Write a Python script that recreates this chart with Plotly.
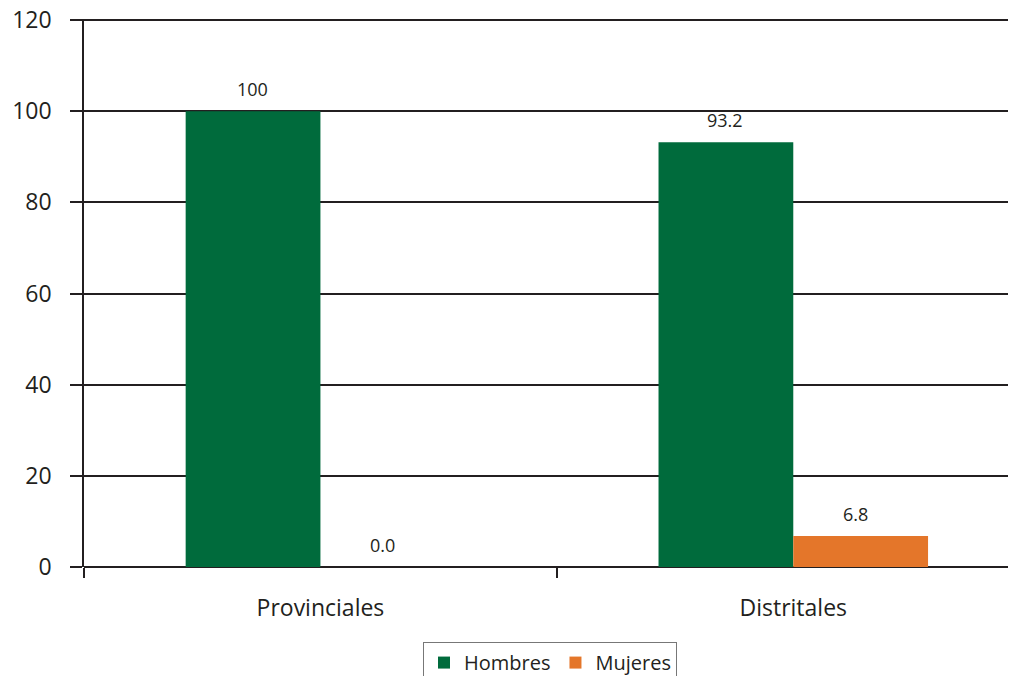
import plotly.graph_objects as go

categorias = ['Provinciales', 'Distritales']
hombres = [100, 93.2]
mujeres = [0.0, 6.8]
etiq_hombres = ['100', '93.2']
etiq_mujeres = ['0.0', '6.8']
y_ticks = [0, 20, 40, 60, 80, 100, 120]

verde = '#006b3c'
naranja = '#e4762a'
linea = '#231f20'
fuente = 'Open Sans'

fig = go.Figure()
fig.add_trace(go.Bar(x=categorias, y=hombres, name='Hombres',
                     marker=dict(color=verde, line=dict(width=0))))
fig.add_trace(go.Bar(x=categorias, y=mujeres, name='Mujeres',
                     marker=dict(color=naranja, line=dict(width=0))))

# etiquetas de datos, algo por encima de cada barra
for i, cat in enumerate(categorias):
    fig.add_annotation(x=cat, y=hombres[i], text=etiq_hombres[i], xref='x', yref='y',
                       xshift=-68, yshift=22, showarrow=False,
                       font=dict(family=fuente, size=18, color=linea))
    fig.add_annotation(x=cat, y=mujeres[i], text=etiq_mujeres[i], xref='x', yref='y',
                       xshift=62, yshift=22, showarrow=False,
                       font=dict(family=fuente, size=18, color=linea))

# la página deja 8 px de margen, así que la figura es algo más pequeña
fig.update_layout(
    width=1008, height=668,
    margin=dict(l=76, r=0, t=11, b=109, autoexpand=False),
    paper_bgcolor='white', plot_bgcolor='white',
    barmode='group', bargap=0.43, bargroupgap=0,
    font=dict(family=fuente, color=linea),
    showlegend=True,
    legend=dict(orientation='h', x=0.5, xanchor='center', y=-0.137, yanchor='top',
                bordercolor='#777777', borderwidth=1,
                font=dict(family=fuente, size=20, color=linea)),
)
fig.update_xaxes(range=[-0.5, 1.471], showgrid=False, automargin=False,
                 tickson='boundaries', ticks='outside', ticklen=10, tickwidth=1.5,
                 tickcolor=linea, showline=False, ticklabelstandoff=25,
                 tickfont=dict(family=fuente, size=23, color=linea))
fig.update_yaxes(range=[0, 120.25], tickvals=y_ticks, ticklabeloverflow='allow',
                 showgrid=True, gridcolor=linea, gridwidth=1.5,
                 automargin=False,
                 zeroline=True, zerolinecolor=linea, zerolinewidth=1.5,
                 showline=True, linecolor=linea, linewidth=1.5,
                 ticks='outside', ticklen=12, tickwidth=1.5, tickcolor=linea,
                 ticklabelstandoff=14,
                 tickfont=dict(family=fuente, size=23, color=linea))

fig.write_html('out.html')
